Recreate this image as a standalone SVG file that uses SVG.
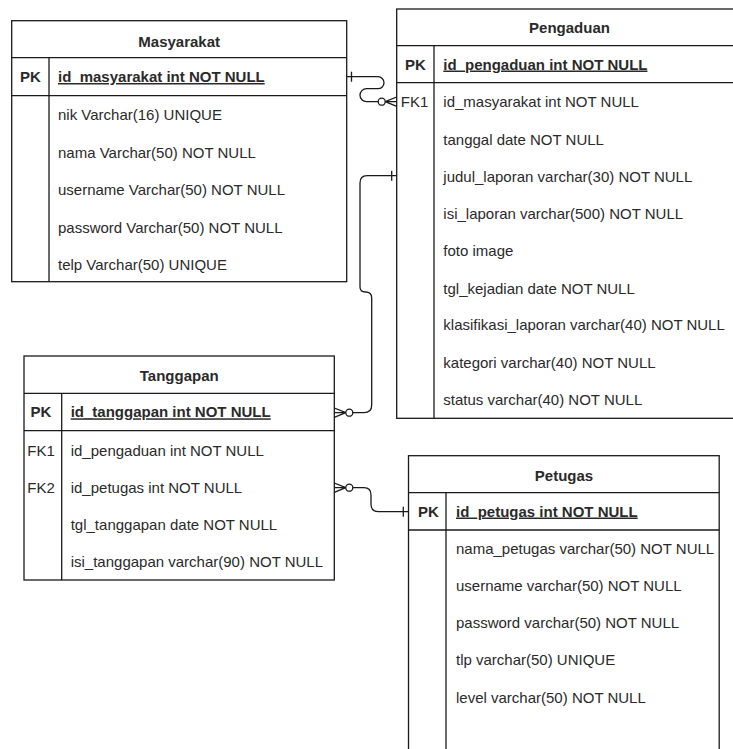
<svg xmlns="http://www.w3.org/2000/svg" width="733" height="749" viewBox="0 0 733 749">
<style>
.box{fill:#fff;stroke:#1a1a1a;stroke-width:1.3}
.ln{stroke:#1a1a1a;stroke-width:1.3;fill:none}
.t{font-family:"Liberation Sans",Arial,sans-serif;font-size:15px;fill:#2a2a2a}
.b{font-weight:bold}
.u{text-decoration:underline}
.c{text-anchor:middle}
.con{stroke:#1a1a1a;stroke-width:1.3;fill:none}
.circ{stroke:#1a1a1a;stroke-width:1.3;fill:#fff}
</style>
<rect width="733" height="749" fill="#fff"/>

<g id="masyarakat">
<rect class="box" x="11.7" y="20.7" width="335" height="261"/>
<line class="ln" x1="11.7" y1="57.7" x2="346.7" y2="57.7"/>
<line class="ln" x1="11.7" y1="95.7" x2="346.7" y2="95.7"/>
<line class="ln" x1="49" y1="57.7" x2="49" y2="281.7"/>
<text class="t b c" x="179.2" y="47">Masyarakat</text>
<text class="t b c" x="30.3" y="82">PK</text>
<text class="t b u" x="58" y="82">id_masyarakat int NOT NULL</text>
<text class="t" x="58" y="120">nik Varchar(16) UNIQUE</text>
<text class="t" x="58" y="157.5">nama Varchar(50) NOT NULL</text>
<text class="t" x="58" y="195">username Varchar(50) NOT NULL</text>
<text class="t" x="58" y="232.5">password Varchar(50) NOT NULL</text>
<text class="t" x="58" y="270">telp Varchar(50) UNIQUE</text>
</g>

<g id="pengaduan">
<rect class="box" x="396.7" y="9" width="346" height="409.3"/>
<line class="ln" x1="396.7" y1="45.7" x2="742.7" y2="45.7"/>
<line class="ln" x1="396.7" y1="82.7" x2="742.7" y2="82.7"/>
<line class="ln" x1="434" y1="45.7" x2="434" y2="418.3"/>
<text class="t b c" x="569.5" y="32.5">Pengaduan</text>
<text class="t b c" x="415.3" y="69.5">PK</text>
<text class="t b u" x="443.3" y="69.5">id_pengaduan int NOT NULL</text>
<text class="t c" x="414.5" y="107">FK1</text>
<text class="t" x="443.3" y="107">id_masyarakat int NOT NULL</text>
<text class="t" x="443.3" y="144.5">tanggal date NOT NULL</text>
<text class="t" x="443.3" y="181.8">judul_laporan varchar(30) NOT NULL</text>
<text class="t" x="443.3" y="219">isi_laporan varchar(500) NOT NULL</text>
<text class="t" x="443.3" y="256">foto image</text>
<text class="t" x="443.3" y="293.5">tgl_kejadian date NOT NULL</text>
<text class="t" x="443.3" y="330.3">klasifikasi_laporan varchar(40) NOT NULL</text>
<text class="t" x="443.3" y="367.8">kategori varchar(40) NOT NULL</text>
<text class="t" x="443.3" y="404.5">status varchar(40) NOT NULL</text>
</g>

<g id="tanggapan">
<rect class="box" x="24" y="356" width="310.3" height="224"/>
<line class="ln" x1="24" y1="393.3" x2="334.3" y2="393.3"/>
<line class="ln" x1="24" y1="430.7" x2="334.3" y2="430.7"/>
<line class="ln" x1="61.7" y1="393.3" x2="61.7" y2="580"/>
<text class="t b c" x="179.2" y="381.3">Tanggapan</text>
<text class="t b c" x="41" y="417.3">PK</text>
<text class="t b u" x="70.7" y="417.3">id_tanggapan int NOT NULL</text>
<text class="t c" x="41" y="456">FK1</text>
<text class="t" x="70.7" y="456">id_pengaduan int NOT NULL</text>
<text class="t c" x="41" y="492.8">FK2</text>
<text class="t" x="70.7" y="492.8">id_petugas int NOT NULL</text>
<text class="t" x="70.7" y="529.5">tgl_tanggapan date NOT NULL</text>
<text class="t" x="70.7" y="566.8">isi_tanggapan varchar(90) NOT NULL</text>
</g>

<g id="petugas">
<rect class="box" x="408.5" y="455.7" width="310.7" height="310"/>
<line class="ln" x1="408.5" y1="492.7" x2="719.2" y2="492.7"/>
<line class="ln" x1="408.5" y1="530" x2="719.2" y2="530"/>
<line class="ln" x1="446" y1="492.7" x2="446" y2="760"/>
<text class="t b c" x="564" y="481.3">Petugas</text>
<text class="t b c" x="428.5" y="516.5">PK</text>
<text class="t b u" x="456" y="516.5">id_petugas int NOT NULL</text>
<text class="t" x="456" y="553.5">nama_petugas varchar(50) NOT NULL</text>
<text class="t" x="456" y="591">username varchar(50) NOT NULL</text>
<text class="t" x="456" y="628">password varchar(50) NOT NULL</text>
<text class="t" x="456" y="665.3">tlp varchar(50) UNIQUE</text>
<text class="t" x="456" y="703">level varchar(50) NOT NULL</text>
</g>

<g id="connectors">
<!-- Masyarakat -> Pengaduan -->
<path class="con" d="M346.7,76.7 H378 A6,6 0 0 1 378,88.7 H366.5 A6.5,6.5 0 0 0 366.5,101.7 H378.2"/>
<line class="con" x1="351.5" y1="71.7" x2="351.5" y2="81.7"/>
<circle class="circ" cx="381.7" cy="101.7" r="3.5"/>
<path class="con" d="M385.2,101.7 H396.7 M385.2,101.7 L396.7,97 M385.2,101.7 L396.7,106.4"/>
<!-- Pengaduan -> Tanggapan -->
<path class="con" d="M396.7,175.7 H367 Q360,175.7 360,183 V287 Q360,292 365.5,292 Q371.7,292 371.7,298 V405 Q371.7,412.7 364,412.7 H352.8"/>
<line class="con" x1="391.7" y1="170.7" x2="391.7" y2="180.7"/>
<circle class="circ" cx="349.3" cy="412.7" r="3.5"/>
<path class="con" d="M345.8,412.7 H334.3 M345.8,412.7 L334.3,408 M345.8,412.7 L334.3,417.4"/>
<!-- Petugas -> Tanggapan -->
<path class="con" d="M352.8,487.7 H364 Q371,487.7 371,495 V504 Q371,511.7 378.5,511.7 H408.5"/>
<line class="con" x1="403.3" y1="506.7" x2="403.3" y2="516.7"/>
<circle class="circ" cx="349.3" cy="487.7" r="3.5"/>
<path class="con" d="M345.8,487.7 H334.3 M345.8,487.7 L334.3,483 M345.8,487.7 L334.3,492.4"/>
</g>
</svg>
